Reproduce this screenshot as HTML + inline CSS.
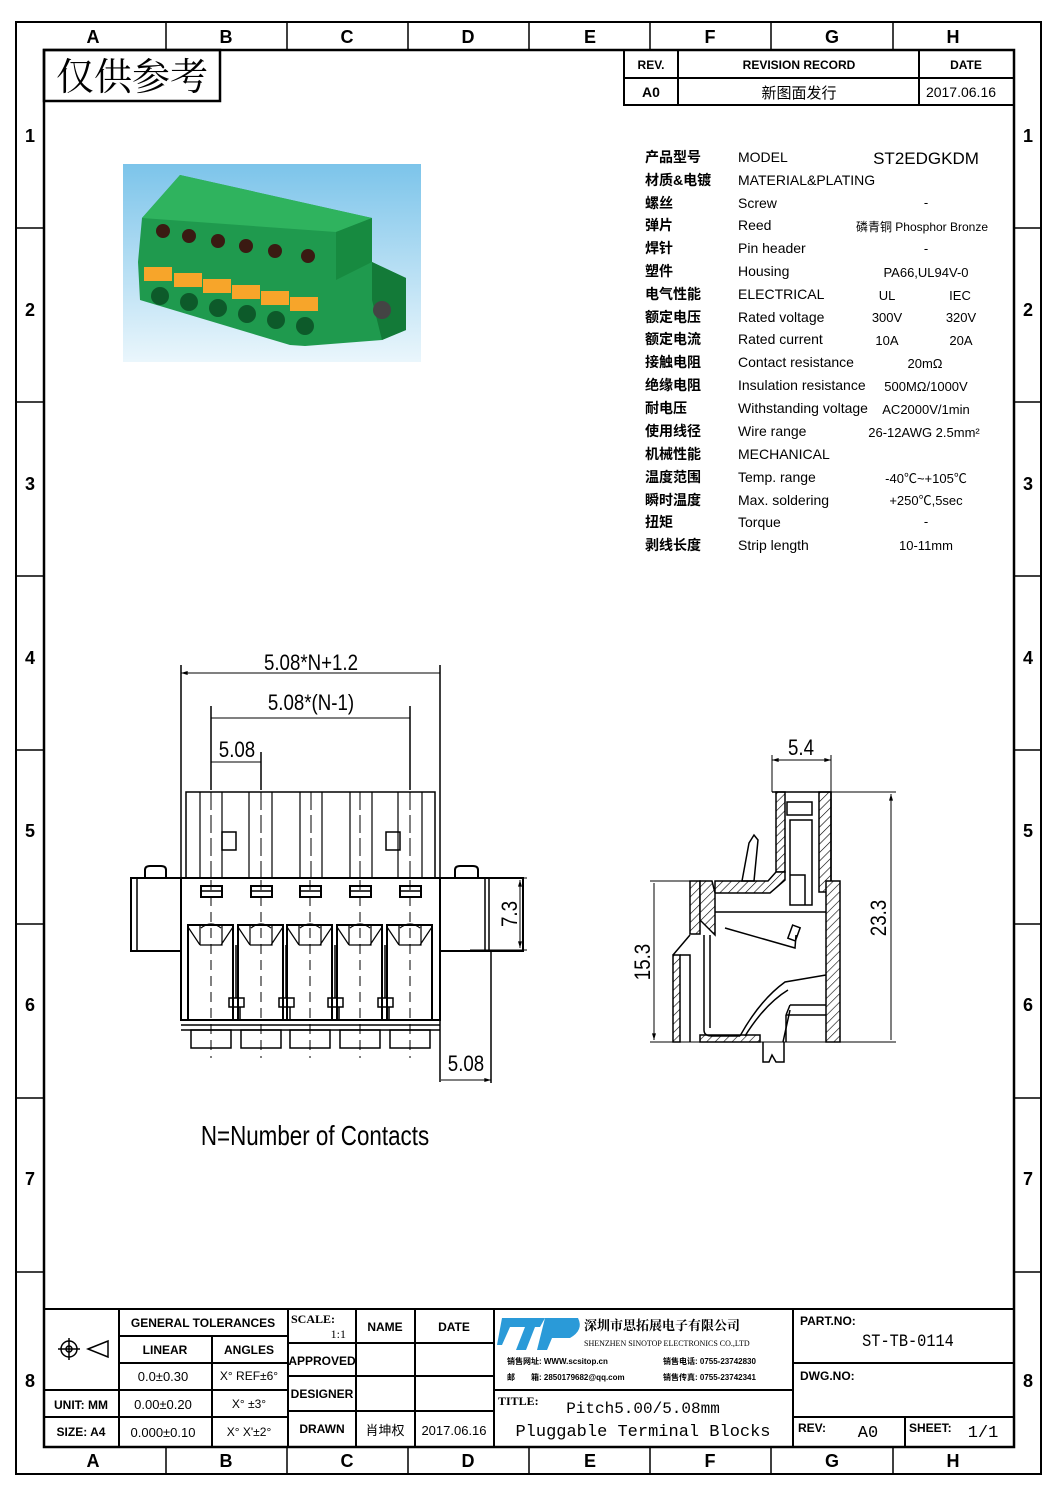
<!DOCTYPE html>
<html><head><meta charset="utf-8"><style>
html,body{margin:0;padding:0;background:#fff;}
svg{display:block;}
text{font-family:"Liberation Sans","Noto Sans CJK SC",sans-serif;fill:#000;}
.m{font-family:"Liberation Mono","Noto Sans CJK SC",monospace;}
.s{font-family:"Liberation Serif","Noto Serif CJK SC",serif;}
</style></head><body>
<svg width="1059" height="1497" viewBox="0 0 1059 1497" xmlns="http://www.w3.org/2000/svg">
<defs>
<pattern id="h" width="6" height="6" patternUnits="userSpaceOnUse" patternTransform="rotate(45)"><rect width="6" height="6" fill="#fff"/><line x1="0" y1="0" x2="0" y2="6" stroke="#000" stroke-width="1.2"/></pattern>
<linearGradient id="sky" x1="0" y1="0" x2="0" y2="1"><stop offset="0" stop-color="#7cc4ea"/><stop offset="1" stop-color="#eaf6fc"/></linearGradient>
<marker id="a" viewBox="0 0 10 6" refX="10" refY="3" markerWidth="8" markerHeight="4" orient="auto-start-reverse"><path d="M0,0L10,3L0,6z" fill="#000"/></marker>
</defs>
<g fill="none" stroke="#000">
<rect x="16" y="22" width="1025" height="1452" stroke-width="2"/>
<rect x="44" y="50" width="970" height="1397" stroke-width="2.5"/>
<g stroke-width="1.5">
<path d="M166,22V50M287,22V50M408,22V50M529,22V50M650,22V50M771,22V50M893,22V50"/>
<path d="M166,1447V1474M287,1447V1474M408,1447V1474M529,1447V1474M650,1447V1474M771,1447V1474M893,1447V1474"/>
<path d="M16,228H44M16,402H44M16,576H44M16,750H44M16,924H44M16,1098H44M16,1272H44"/>
<path d="M1014,228H1041M1014,402H1041M1014,576H1041M1014,750H1041M1014,924H1041M1014,1098H1041M1014,1272H1041"/>
</g>
<rect x="44" y="50" width="176" height="51" stroke-width="2.5"/>
<rect x="624" y="50" width="390" height="55" stroke-width="2"/>
<path d="M624,78H1014M678,50V105M919,50V105" stroke-width="2"/>
</g>
<g font-size="18" font-weight="bold" text-anchor="middle">
<text x="93" y="43">A</text><text x="226" y="43">B</text><text x="347" y="43">C</text><text x="468" y="43">D</text><text x="590" y="43">E</text><text x="710" y="43">F</text><text x="832" y="43">G</text><text x="953" y="43">H</text>
<text x="93" y="1467">A</text><text x="226" y="1467">B</text><text x="347" y="1467">C</text><text x="468" y="1467">D</text><text x="590" y="1467">E</text><text x="710" y="1467">F</text><text x="832" y="1467">G</text><text x="953" y="1467">H</text>
<text x="30" y="142">1</text><text x="30" y="316">2</text><text x="30" y="490">3</text><text x="30" y="664">4</text><text x="30" y="837">5</text><text x="30" y="1011">6</text><text x="30" y="1185">7</text><text x="30" y="1387">8</text>
<text x="1028" y="142">1</text><text x="1028" y="316">2</text><text x="1028" y="490">3</text><text x="1028" y="664">4</text><text x="1028" y="837">5</text><text x="1028" y="1011">6</text><text x="1028" y="1185">7</text><text x="1028" y="1387">8</text>
</g>
<text x="132" y="90" font-size="38" text-anchor="middle" class="s">仅供参考</text>
<g font-size="12" text-anchor="middle" class="s" font-weight="bold">
<text x="651" y="69">REV.</text><text x="799" y="69">REVISION RECORD</text><text x="966" y="69">DATE</text>
<text x="651" y="97" font-size="14">A0</text><text x="799" y="98" font-size="15" font-weight="normal">新图面发行</text><text x="961" y="97" font-size="14" font-weight="normal">2017.06.16</text>
</g>
<!-- photo -->
<rect x="123" y="164" width="298" height="198" fill="url(#sky)"/>
<polygon points="138,262 142,218 180,175 372,218 372,262 406,278 406,330 382,340 305,346 290,345 140,300" fill="#1f9a4e"/>
<polygon points="142,218 180,175 372,218 336,232" fill="#2fb35e"/>
<polygon points="336,232 372,218 372,262 336,280" fill="#178a40"/>
<polygon points="372,262 406,278 406,330 382,340 372,300" fill="#137a38"/>
<circle cx="382" cy="310" r="9" fill="#444"/>
<g fill="#3a1a12"><circle cx="163" cy="231" r="7"/><circle cx="189" cy="236" r="7"/><circle cx="218" cy="241" r="7"/><circle cx="246" cy="246" r="7"/><circle cx="275" cy="251" r="7"/><circle cx="308" cy="256" r="7"/></g>
<g fill="#f7a52a"><rect x="144" y="267" width="28" height="14"/><rect x="174" y="273" width="28" height="14"/><rect x="203" y="279" width="28" height="14"/><rect x="232" y="285" width="28" height="14"/><rect x="261" y="291" width="28" height="14"/><rect x="290" y="297" width="28" height="14"/></g>
<g fill="#0d5a2a"><circle cx="160" cy="296" r="9"/><circle cx="189" cy="302" r="9"/><circle cx="218" cy="308" r="9"/><circle cx="247" cy="314" r="9"/><circle cx="276" cy="320" r="9"/><circle cx="305" cy="326" r="9"/></g>
<!-- spec table -->
<g font-size="14" class="s" font-weight="bold">
<g><text x="645" y="162">产品型号</text><text x="645" y="185">材质&amp;电镀</text><text x="645" y="208">螺丝</text><text x="645" y="230">弹片</text><text x="645" y="253">焊针</text><text x="645" y="276">塑件</text><text x="645" y="299">电气性能</text><text x="645" y="322">额定电压</text><text x="645" y="344">额定电流</text><text x="645" y="367">接触电阻</text><text x="645" y="390">绝缘电阻</text><text x="645" y="413">耐电压</text><text x="645" y="436">使用线径</text><text x="645" y="459">机械性能</text><text x="645" y="482">温度范围</text><text x="645" y="505">瞬时温度</text><text x="645" y="527">扭矩</text><text x="645" y="550">剥线长度</text></g>
<g font-weight="normal" font-size="14">
<text x="738" y="162">MODEL</text><text x="738" y="185">MATERIAL&amp;PLATING</text><text x="738" y="208">Screw</text><text x="738" y="230">Reed</text><text x="738" y="253">Pin header</text><text x="738" y="276">Housing</text><text x="738" y="299">ELECTRICAL</text><text x="738" y="322">Rated voltage</text><text x="738" y="344">Rated current</text><text x="738" y="367">Contact resistance</text><text x="738" y="390">Insulation resistance</text><text x="738" y="413">Withstanding voltage</text><text x="738" y="436">Wire range</text><text x="738" y="459">MECHANICAL</text><text x="738" y="482">Temp. range</text><text x="738" y="505">Max. soldering</text><text x="738" y="527">Torque</text><text x="738" y="550">Strip length</text></g>
<g font-weight="normal" text-anchor="middle" font-size="13">
<text x="926" y="164" font-size="17">ST2EDGKDM</text><text x="926" y="207">-</text><text x="922" y="231" font-size="12">磷青铜 Phosphor Bronze</text><text x="926" y="253">-</text><text x="926" y="277">PA66,UL94V-0</text>
<text x="887" y="300">UL</text><text x="960" y="300">IEC</text><text x="887" y="322">300V</text><text x="961" y="322">320V</text><text x="887" y="345">10A</text><text x="961" y="345">20A</text>
<text x="925" y="368">20mΩ</text><text x="926" y="391">500MΩ/1000V</text><text x="926" y="414">AC2000V/1min</text><text x="924" y="437">26-12AWG 2.5mm²</text>
<text x="926" y="483">-40℃~+105℃</text><text x="926" y="505">+250℃,5sec</text><text x="926" y="526">-</text><text x="926" y="550">10-11mm</text></g>
</g>
<!-- front view -->
<g fill="none" stroke="#000" stroke-width="1.5">
<path d="M181,665V878M440,665V1082M211,706V790M410,706V790M261,752V790M491,951V1083"/>
<path d="M181,673H440M211,718H410M211,762H261M441,1080H491" stroke-width="1" marker-start="url(#a)" marker-end="url(#a)"/>
<rect x="186" y="792" width="249" height="86"/>
<path d="M200,792V877M222,792V877M249,792V877M272,792V877M300,792V877M322,792V877M350,792V877M372,792V877M398,792V877M422,792V877" stroke-width="1.2"/>
<rect x="222" y="832" width="14" height="18"/><rect x="386" y="832" width="14" height="18"/>
<rect x="181" y="878" width="259" height="142" stroke-width="2"/>
<rect x="131" y="878" width="50" height="73" stroke-width="2"/><path d="M137,878V951"/>
<rect x="440" y="878" width="83" height="73" stroke-width="2"/><path d="M485,878V951M489,878V951"/>
<path d="M145,878V870Q145,866 150,866H161Q166,866 166,870V878M455,878V870Q455,866 460,866H473Q478,866 478,870V878" stroke-width="2"/>
<path d="M470,878H527M470,950H527" stroke-width="1"/>
<path d="M520,880V948" stroke-width="1" marker-start="url(#a)" marker-end="url(#a)"/>
<path d="M181,1025H440M181,1030H440" />
<g id="c1">
<rect x="201" y="886" width="21" height="11" stroke-width="2"/><path d="M201,891H222"/>
<rect x="188" y="925" width="45" height="95" stroke-width="2"/>
<path d="M188,927L200,945M233,927L221,945M200,945H222V925M200,945V925M201,928Q211,920 221,928" stroke-width="1.2"/>
<rect x="191" y="1030" width="40" height="18"/>
<path d="M211,880V1058" stroke-dasharray="10,6" stroke-width="1"/>
</g>
<use href="#c1" x="50"/><use href="#c1" x="99"/><use href="#c1" x="149"/><use href="#c1" x="199"/>
<g id="p1"><rect x="229" y="998" width="15" height="9"/><path d="M233,1007V1020M240,1007V1020M236,945V998"/></g>
<use href="#p1" x="50"/><use href="#p1" x="99"/><use href="#p1" x="149"/>
<path d="M211,792V880M261,792V880M311,792V880M360,792V880M410,792V880" stroke-dasharray="18,5" stroke-width="1"/>
</g>
<g class="m" font-size="22">
<text x="311" y="670" text-anchor="middle" transform="translate(311,0) scale(0.85,1) translate(-311,0)">5.08*N+1.2</text>
<text x="311" y="710" text-anchor="middle" transform="translate(311,0) scale(0.85,1) translate(-311,0)">5.08*(N-1)</text>
<text x="237" y="757" text-anchor="middle" transform="translate(237,0) scale(0.85,1) translate(-237,0)">5.08</text>
<text x="466" y="1071" text-anchor="middle" transform="translate(466,0) scale(0.85,1) translate(-466,0)">5.08</text>
<text x="0" y="0" text-anchor="middle" transform="translate(517,914) rotate(-90) scale(0.85,1)">7.3</text>
<text x="315" y="1145" font-size="28" text-anchor="middle" transform="translate(315,0) scale(0.8,1) translate(-315,0)">N=Number of Contacts</text>
</g>
<!-- side view -->
<g fill="none" stroke="#000" stroke-width="1.5">
<path d="M772,755V792M831,755V792M828,792H896M650,881H705M650,1042H896" stroke-width="1"/>
<path d="M772,760H831" stroke-width="1" marker-start="url(#a)" marker-end="url(#a)"/>
<path d="M891,794V1040M654,883V1040" stroke-width="1" marker-start="url(#a)" marker-end="url(#a)"/>
<rect x="776" y="792" width="9" height="80" fill="url(#h)"/>
<rect x="819" y="792" width="12" height="100" fill="url(#h)"/>
<polygon points="785,872 776,872 768,881 715,881 715,893 770,893 785,880" fill="url(#h)"/>
<rect x="690" y="881" width="10" height="53" fill="url(#h)"/>
<polygon points="700,881 712,881 715,893 715,935 700,920" fill="url(#h)"/>
<rect x="826" y="881" width="14" height="161" fill="url(#h)"/>
<rect x="700" y="1035" width="60" height="7" fill="url(#h)"/>
<rect x="673" y="955" width="7" height="87" fill="url(#h)"/>
<path d="M680,955H690V1042M673,955L690,935M772,792H831V881"/>
<polygon points="742,881 749,843 754,835 758,840 754,881"/>
<path d="M715,912H826M725,928L795,948L796,935M704,935V1030Q704,1036 712,1036H740M710,935V1028"/>
<rect x="790" y="926" width="8" height="14" transform="rotate(20 794 933)"/>
<path d="M790,1005H826M786,1015H826M790,1005L786,1015M786,1015V1042M790,820H812V905H790Z"/>
<path d="M787,802H812V815H787ZM790,875H805V905"/>
<path d="M740,1036Q760,1000 785,982L826,975M745,1036Q765,1004 788,990"/>
<path d="M763,1042V1062L769,1062L772,1055L776,1062L784,1062V1042M783,1042L790,1010"/>
</g>
<g class="m" font-size="22">
<text x="801" y="755" text-anchor="middle" transform="translate(801,0) scale(0.85,1) translate(-801,0)">5.4</text>
<text transform="translate(886,918) rotate(-90) scale(0.85,1)" text-anchor="middle">23.3</text>
<text transform="translate(650,962) rotate(-90) scale(0.85,1)" text-anchor="middle">15.3</text>
</g>
<!-- title block -->
<g fill="none" stroke="#000" stroke-width="2">
<path d="M44,1309H1014"/>
<path d="M119,1309V1447M212,1336V1447M288,1309V1447M356,1309V1447M415,1309V1447M494,1309V1447M793,1309V1447M905,1417V1447"/>
<path d="M119,1336H288M119,1363H288M44,1390H288M44,1417H288"/>
<path d="M288,1343H494M288,1376H494M288,1411H494M494,1390H793M793,1363H1014M793,1417H1014"/>
</g>
<g stroke="#000" fill="none" stroke-width="1.5"><circle cx="69" cy="1349" r="8"/><circle cx="69" cy="1349" r="3"/><path d="M58,1349H80M69,1338V1360M88,1349L108,1341V1357Z"/></g>
<g font-size="12" class="s" text-anchor="middle" font-weight="bold">
<text x="203" y="1327">GENERAL TOLERANCES</text><text x="165" y="1354">LINEAR</text><text x="249" y="1354">ANGLES</text>
<text x="322" y="1365">APPROVED</text><text x="322" y="1398">DESIGNER</text><text x="322" y="1433">DRAWN</text>
<text x="385" y="1331">NAME</text><text x="454" y="1331">DATE</text>
<text x="81" y="1409">UNIT: MM</text><text x="81" y="1436">SIZE: A4</text>
</g>
<g font-size="13" class="m" text-anchor="middle">
<text x="163" y="1381">0.0±0.30</text><text x="249" y="1380" font-size="12">X° REF±6°</text>
<text x="163" y="1409">0.00±0.20</text><text x="249" y="1408" font-size="12">X° ±3°</text>
<text x="163" y="1437">0.000±0.10</text><text x="249" y="1436" font-size="12">X° X'±2°</text>
<text x="385" y="1435">肖坤权</text><text x="454" y="1435">2017.06.16</text>
</g>
<text x="291" y="1323" font-size="12" class="s" font-weight="bold">SCALE:</text><text x="346" y="1338" font-size="12" class="s" text-anchor="end">1:1</text>
<g fill="#2a9ad8"><path d="M502,1318H545L540,1327H510L502,1345H497Z"/><path d="M525,1327H535L526,1350H516Z"/><path d="M545,1318H578Q584,1330 570,1338H552L547,1350H537Z"/></g>
<text x="584" y="1330" font-size="13" class="s" font-weight="bold">深圳市思拓展电子有限公司</text>
<text x="584" y="1346" font-size="8" class="s">SHENZHEN SINOTOP ELECTRONICS CO.,LTD</text>
<g font-size="8" font-weight="bold" class="s"><text x="507" y="1364">销售网址: WWW.scsitop.cn</text><text x="507" y="1380">邮　　箱: 2850179682@qq.com</text><text x="663" y="1364">销售电话: 0755-23742830</text><text x="663" y="1380">销售传真: 0755-23742341</text></g>
<text x="498" y="1405" font-size="12" class="s" font-weight="bold">TITLE:</text>
<text x="643" y="1413" font-size="16" class="m" text-anchor="middle">Pitch5.00/5.08mm</text>
<text x="643" y="1436" font-size="17" class="m" text-anchor="middle">Pluggable Terminal Blocks</text>
<g font-size="12" class="s" font-weight="bold"><text x="800" y="1325">PART.NO:</text><text x="800" y="1380">DWG.NO:</text><text x="798" y="1432">REV:</text><text x="909" y="1432">SHEET:</text></g>
<text x="908" y="1346" font-size="18" class="m" text-anchor="middle" transform="translate(908,0) scale(0.85,1) translate(-908,0)">ST-TB-0114</text>
<text x="868" y="1437" font-size="17" class="m" text-anchor="middle">A0</text>
<text x="983" y="1437" font-size="17" class="m" text-anchor="middle">1/1</text>
</svg>
</body></html>
